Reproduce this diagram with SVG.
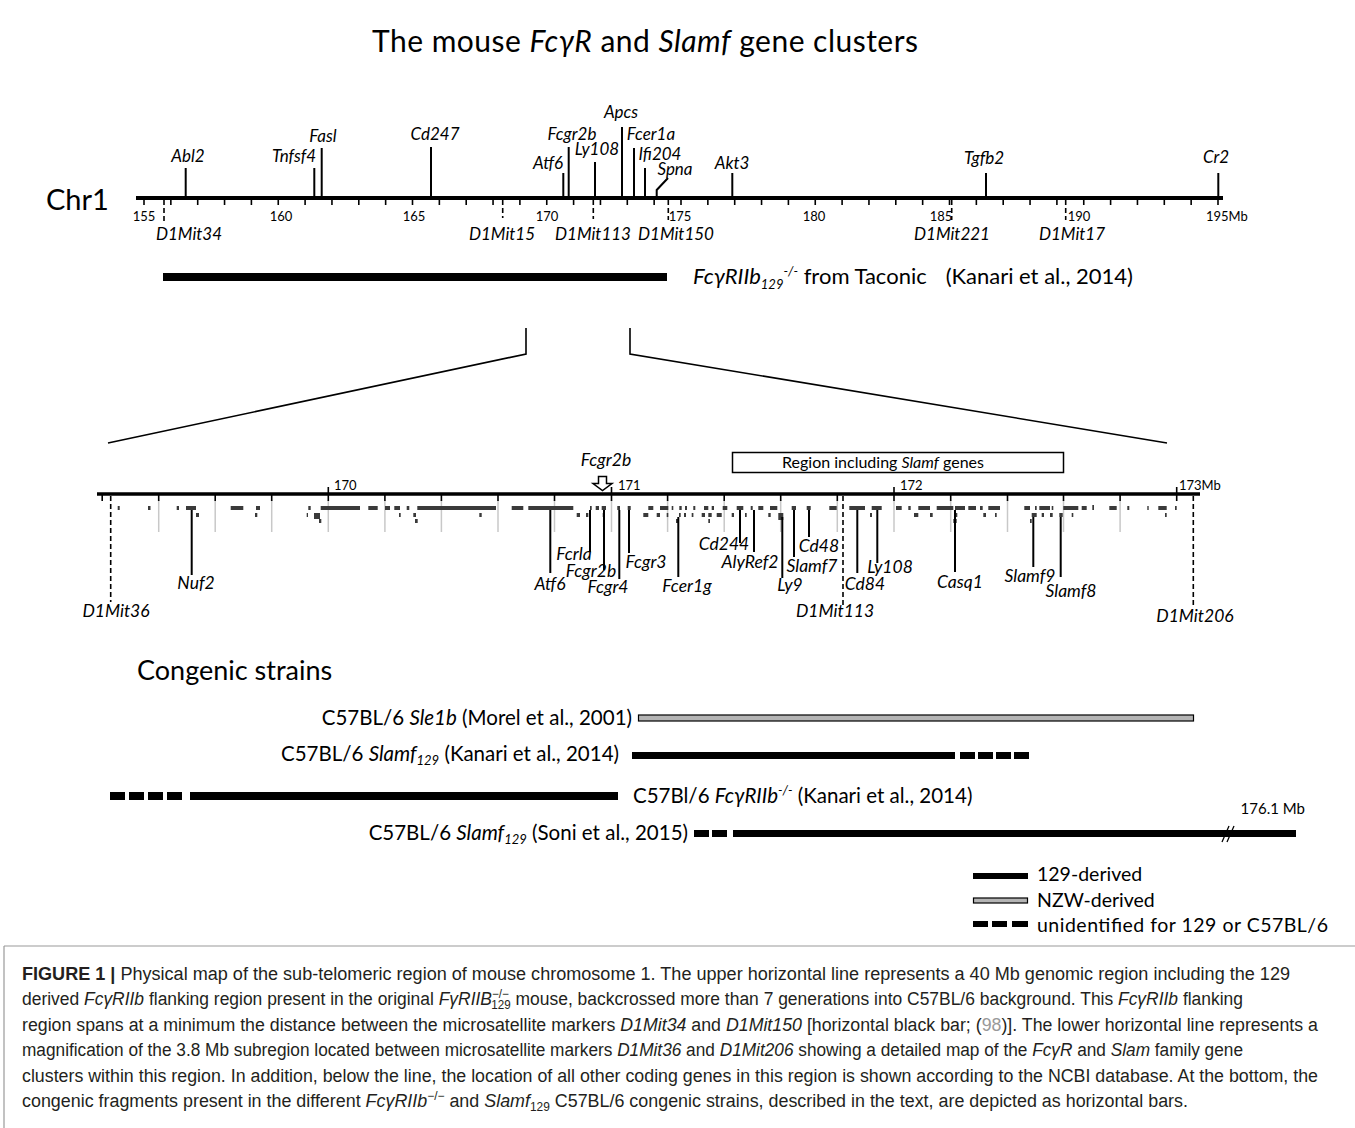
<svg xmlns="http://www.w3.org/2000/svg" width="1355" height="1128" viewBox="0 0 1355 1128">
<style>
text{font-family:Lato,"Liberation Sans",sans-serif;fill:#000}
.it{font-style:italic}
.gt{font-size:17px;font-style:italic;text-anchor:middle}
.gl{font-size:17.5px;font-style:italic;text-anchor:middle}
.tk{font-size:13px;text-anchor:middle}
.tk2{font-size:13px}
.gline{stroke:#000;stroke-width:2;fill:none}
.mk{stroke:#000;stroke-width:1.6;stroke-dasharray:5,3;fill:none}
.tick{stroke:#000;stroke-width:1.6}
.gray{stroke:#c8c8c8;stroke-width:1.5}
.blk rect{fill:#3a3a3a}
.strain{font-size:20.5px}
.cap{font-family:"Liberation Sans",Arial,sans-serif;font-size:18px;fill:#231f20}
.sub{font-size:13px}
.lg{font-size:19.5px}
</style>

<g id="title">
<text x="372" y="52" font-size="30" textLength="546">The mouse <tspan class="it">FcγR</tspan> and <tspan class="it">Slamf</tspan> gene clusters</text>
</g>

<g id="chr1-map">
<text x="46" y="210" font-size="29">Chr1</text>
<line x1="136" y1="198" x2="1223" y2="198" stroke="#000" stroke-width="4"/>
<g id="chr1-ticks" class="tick">
<line x1="144" y1="198" x2="144" y2="205"/><line x1="170.85" y1="198" x2="170.85" y2="205"/><line x1="197.7" y1="198" x2="197.7" y2="205"/><line x1="224.55" y1="198" x2="224.55" y2="205"/><line x1="251.4" y1="198" x2="251.4" y2="205"/>
<line x1="278.25" y1="198" x2="278.25" y2="205"/><line x1="305.1" y1="198" x2="305.1" y2="205"/><line x1="331.95" y1="198" x2="331.95" y2="205"/><line x1="358.8" y1="198" x2="358.8" y2="205"/><line x1="385.65" y1="198" x2="385.65" y2="205"/>
<line x1="412.5" y1="198" x2="412.5" y2="205"/><line x1="439.35" y1="198" x2="439.35" y2="205"/><line x1="466.2" y1="198" x2="466.2" y2="205"/><line x1="493.05" y1="198" x2="493.05" y2="205"/><line x1="519.9" y1="198" x2="519.9" y2="205"/>
<line x1="546.75" y1="198" x2="546.75" y2="205"/><line x1="573.6" y1="198" x2="573.6" y2="205"/><line x1="600.45" y1="198" x2="600.45" y2="205"/><line x1="627.3" y1="198" x2="627.3" y2="205"/><line x1="654.15" y1="198" x2="654.15" y2="205"/>
<line x1="681" y1="198" x2="681" y2="205"/><line x1="707.85" y1="198" x2="707.85" y2="205"/><line x1="734.7" y1="198" x2="734.7" y2="205"/><line x1="761.55" y1="198" x2="761.55" y2="205"/><line x1="788.4" y1="198" x2="788.4" y2="205"/>
<line x1="815.25" y1="198" x2="815.25" y2="205"/><line x1="842.1" y1="198" x2="842.1" y2="205"/><line x1="868.95" y1="198" x2="868.95" y2="205"/><line x1="895.8" y1="198" x2="895.8" y2="205"/><line x1="922.65" y1="198" x2="922.65" y2="205"/>
<line x1="949.5" y1="198" x2="949.5" y2="205"/><line x1="976.35" y1="198" x2="976.35" y2="205"/><line x1="1003.2" y1="198" x2="1003.2" y2="205"/><line x1="1030.05" y1="198" x2="1030.05" y2="205"/><line x1="1056.9" y1="198" x2="1056.9" y2="205"/>
<line x1="1083.75" y1="198" x2="1083.75" y2="205"/><line x1="1110.6" y1="198" x2="1110.6" y2="205"/><line x1="1137.45" y1="198" x2="1137.45" y2="205"/><line x1="1164.3" y1="198" x2="1164.3" y2="205"/><line x1="1191.15" y1="198" x2="1191.15" y2="205"/>
<line x1="1218" y1="198" x2="1218" y2="205"/>
</g>
<g id="chr1-scale">
<text class="tk" x="144" y="221">155</text><text class="tk" x="281" y="221">160</text><text class="tk" x="414" y="221">165</text><text class="tk" x="547" y="221">170</text>
<text class="tk" x="680" y="221">175</text><text class="tk" x="814" y="221">180</text><text class="tk" x="941" y="221">185</text><text class="tk" x="1079" y="221">190</text>
<text class="tk2" x="1206" y="221">195Mb</text>
</g>
<g id="chr1-genes">
<line class="gline" x1="185.7" y1="198" x2="185.7" y2="168"/><text class="gt" x="188" y="162">Abl2</text>
<line class="gline" x1="314.3" y1="198" x2="314.3" y2="168"/><text class="gt" x="294" y="162">Tnfsf4</text>
<line class="gline" x1="321.7" y1="198" x2="321.7" y2="148"/><text class="gt" x="323" y="142">Fasl</text>
<line class="gline" x1="431" y1="198" x2="431" y2="147"/><text class="gt" x="435" y="140">Cd247</text>
<line class="gline" x1="563.3" y1="198" x2="563.3" y2="173"/><text class="gt" x="548" y="169">Atf6</text>
<line class="gline" x1="568.7" y1="198" x2="568.7" y2="147"/><text class="gt" x="572" y="140">Fcgr2b</text>
<line class="gline" x1="595" y1="198" x2="595" y2="162"/><text class="gt" x="597" y="155">Ly108</text>
<line class="gline" x1="622" y1="198" x2="622" y2="127"/><text class="gt" x="621" y="118">Apcs</text>
<line class="gline" x1="634" y1="198" x2="634" y2="148"/><text class="gt" x="651" y="140">Fcer1a</text>
<line class="gline" x1="645" y1="198" x2="645" y2="168"/><text class="gt" x="660" y="160">Ifi204</text>
<polyline class="gline" points="656.7,198 656.7,190 668,178"/><text class="gt" x="675" y="175">Spna</text>
<line class="gline" x1="732.3" y1="198" x2="732.3" y2="173"/><text class="gt" x="732" y="169">Akt3</text>
<line class="gline" x1="986" y1="198" x2="986" y2="173"/><text class="gt" x="984" y="164">Tgfb2</text>
<line class="gline" x1="1218.3" y1="198" x2="1218.3" y2="173"/><text class="gt" x="1216" y="163">Cr2</text>
</g>
<g id="chr1-markers">
<line class="mk" x1="164" y1="200" x2="164" y2="222"/><text class="gt" x="189" y="240">D1Mit34</text>
<line class="mk" x1="502.7" y1="200" x2="502.7" y2="218"/><text class="gt" x="502" y="240">D1Mit15</text>
<line class="mk" x1="593.3" y1="200" x2="593.3" y2="219"/><text class="gt" x="593" y="240">D1Mit113</text>
<line class="mk" x1="668.3" y1="200" x2="668.3" y2="220"/><text class="gt" x="676" y="240">D1Mit150</text>
<line class="mk" x1="951.7" y1="200" x2="951.7" y2="220"/><text class="gt" x="952" y="240">D1Mit221</text>
<line class="mk" x1="1065.7" y1="200" x2="1065.7" y2="220"/><text class="gt" x="1072" y="240">D1Mit17</text>
</g>
</g>

<g id="taconic-bar">
<rect x="163" y="273" width="504" height="8" fill="#000"/>
<text x="693" y="284" font-size="22"><tspan class="it">FcγRIIb</tspan><tspan class="it sub" dy="5">129</tspan><tspan class="it sub" dy="-13">-/-</tspan><tspan dy="8"> from Taconic</tspan></text>
<text x="1133" y="284" font-size="22" text-anchor="end">(Kanari et al., 2014)</text>
</g>

<g id="connectors">
<polyline points="526,328 526,354 108,443" fill="none" stroke="#000" stroke-width="1.6"/>
<polyline points="630,328 630,354 1167,443" fill="none" stroke="#000" stroke-width="1.6"/>
</g>

<g id="detail-map">
<g id="region-box">
<rect x="732.5" y="452.5" width="331" height="20" fill="#fff" stroke="#000" stroke-width="1.5"/>
<text x="883" y="468" font-size="16" text-anchor="middle">Region including <tspan class="it">Slamf</tspan> genes</text>
</g>
<g id="fcgr2b-arrow">
<text class="gl" x="606" y="466">Fcgr2b</text>
<path d="M598.5,476.5 h8 v7 h5.5 l-9.5,7 l-9.5,-7 h5.5 z" fill="#fff" stroke="#000" stroke-width="1.5"/>
</g>
<g id="detail-gray" class="gray">
<line x1="158.7" y1="500" x2="158.7" y2="532"/><line x1="215.2" y1="500" x2="215.2" y2="532"/><line x1="271.7" y1="500" x2="271.7" y2="532"/><line x1="328.3" y1="500" x2="328.3" y2="532"/>
<line x1="384.9" y1="500" x2="384.9" y2="532"/><line x1="441.4" y1="500" x2="441.4" y2="532"/><line x1="498" y1="500" x2="498" y2="532"/><line x1="554.5" y1="500" x2="554.5" y2="532"/>
<line x1="611.5" y1="500" x2="611.5" y2="532"/><line x1="667.6" y1="500" x2="667.6" y2="532"/><line x1="724.2" y1="500" x2="724.2" y2="532"/><line x1="780.7" y1="500" x2="780.7" y2="532"/>
<line x1="837.3" y1="500" x2="837.3" y2="532"/><line x1="894" y1="500" x2="894" y2="532"/><line x1="950.7" y1="500" x2="950.7" y2="532"/><line x1="1007.5" y1="500" x2="1007.5" y2="532"/>
<line x1="1063.5" y1="500" x2="1063.5" y2="532"/><line x1="1120.1" y1="500" x2="1120.1" y2="532"/>
</g>
<line x1="97" y1="494" x2="1200" y2="494" stroke="#000" stroke-width="3.5"/>
<g id="detail-ticks" class="tick">
<line x1="102.2" y1="494" x2="102.2" y2="501"/><line x1="158.7" y1="494" x2="158.7" y2="501"/><line x1="215.2" y1="494" x2="215.2" y2="501"/><line x1="271.7" y1="494" x2="271.7" y2="501"/>
<line x1="328.3" y1="487" x2="328.3" y2="501"/><line x1="384.9" y1="494" x2="384.9" y2="501"/><line x1="441.4" y1="494" x2="441.4" y2="501"/><line x1="498" y1="494" x2="498" y2="501"/>
<line x1="554.5" y1="494" x2="554.5" y2="501"/><line x1="611.5" y1="487" x2="611.5" y2="501"/><line x1="667.6" y1="494" x2="667.6" y2="501"/><line x1="724.2" y1="494" x2="724.2" y2="501"/>
<line x1="780.7" y1="494" x2="780.7" y2="501"/><line x1="837.3" y1="494" x2="837.3" y2="501"/><line x1="894" y1="487" x2="894" y2="501"/><line x1="950.7" y1="494" x2="950.7" y2="501"/>
<line x1="1007.5" y1="494" x2="1007.5" y2="501"/><line x1="1063.5" y1="494" x2="1063.5" y2="501"/><line x1="1120.1" y1="494" x2="1120.1" y2="501"/><line x1="1176.7" y1="487" x2="1176.7" y2="501"/>
</g>
<text class="tk2" x="334" y="490">170</text>
<text class="tk2" x="618" y="490">171</text>
<text class="tk2" x="900" y="490">172</text>
<text class="tk2" x="1179" y="490">173Mb</text>
<g id="gene-blocks" class="blk">
<rect x="117.7" y="506" width="2" height="4"/><rect x="148" y="506" width="2.5" height="4"/><rect x="176.7" y="506" width="2.3" height="4"/><rect x="186" y="506" width="10" height="4"/>
<rect x="230.7" y="506" width="12.6" height="4"/><rect x="256" y="506" width="4" height="4"/><rect x="308.3" y="506" width="2.4" height="4"/><rect x="320.7" y="506" width="39.3" height="4"/>
<rect x="368.3" y="506" width="9.4" height="4"/><rect x="385" y="506" width="5" height="4"/><rect x="394.3" y="506" width="5.7" height="4"/><rect x="406.7" y="506" width="2.6" height="4"/>
<rect x="417.3" y="506" width="78.7" height="4"/><rect x="511.7" y="506" width="11.6" height="4"/><rect x="528.3" y="506" width="45" height="4"/><rect x="590" y="506" width="1.7" height="4"/>
<rect x="595.7" y="506" width="3.3" height="4"/><rect x="601.7" y="506" width="4.3" height="4"/><rect x="617.3" y="506" width="2.7" height="4"/><rect x="627.7" y="506" width="3" height="4"/>
<rect x="648.3" y="506" width="5" height="4"/><rect x="660" y="506" width="8.3" height="4"/><rect x="671.7" y="506" width="1.6" height="4"/><rect x="679.3" y="506" width="2.4" height="4"/>
<rect x="685" y="506" width="2" height="4"/><rect x="693.3" y="506" width="2" height="4"/><rect x="704" y="506" width="4.3" height="4"/><rect x="711.7" y="506" width="2.3" height="4"/>
<rect x="722.7" y="506" width="4.6" height="4"/><rect x="736.7" y="506" width="6.6" height="4"/><rect x="750.7" y="506" width="2" height="4"/><rect x="758.3" y="506" width="5" height="4"/>
<rect x="770" y="506" width="7.3" height="4"/><rect x="791.7" y="506" width="4.3" height="4"/><rect x="806.7" y="506" width="4" height="4"/><rect x="829.3" y="506" width="7.4" height="4"/>
<rect x="849.3" y="506" width="15.7" height="4"/><rect x="871.7" y="506" width="10" height="4"/><rect x="896" y="506" width="5.7" height="4"/><rect x="908.3" y="506" width="2.4" height="4"/>
<rect x="918.3" y="506" width="11.7" height="4"/><rect x="936.7" y="506" width="16.6" height="4"/><rect x="955" y="506" width="10" height="4"/><rect x="968.3" y="506" width="7.7" height="4"/>
<rect x="980" y="506" width="2.7" height="4"/><rect x="988.3" y="506" width="11.7" height="4"/><rect x="1024.3" y="506" width="5.7" height="4"/><rect x="1035" y="506" width="1.7" height="4"/>
<rect x="1039.3" y="506" width="10.7" height="4"/><rect x="1051.7" y="506" width="1.6" height="4"/><rect x="1063.3" y="506" width="15" height="4"/><rect x="1081.7" y="506" width="5" height="4"/>
<rect x="1092.3" y="505" width="1.7" height="5"/><rect x="1109.3" y="506" width="7.4" height="4"/><rect x="1127.3" y="506" width="2" height="4"/><rect x="1147.3" y="506" width="1.4" height="4"/>
<rect x="1158.3" y="506" width="8.4" height="4"/><rect x="1175" y="506" width="1.7" height="4"/>
<rect x="196" y="513" width="3" height="4"/><rect x="255" y="513" width="2.3" height="4"/><rect x="306.7" y="513" width="1.3" height="4"/><rect x="314" y="513" width="6" height="6"/>
<rect x="399" y="513" width="1.7" height="4"/><rect x="413.3" y="513" width="2.7" height="4"/><rect x="479.3" y="513" width="2.4" height="4"/><rect x="576.7" y="513" width="3.3" height="4"/>
<rect x="586" y="513" width="2.3" height="4"/><rect x="602.7" y="513" width="2.3" height="4"/><rect x="643.3" y="513" width="5" height="4"/><rect x="656.7" y="513" width="3.3" height="4"/>
<rect x="666.7" y="513" width="1.6" height="4"/><rect x="679" y="513" width="1.7" height="4"/><rect x="684" y="513" width="2" height="4"/><rect x="691.7" y="513" width="1.7" height="4"/>
<rect x="701.7" y="513" width="3.3" height="4"/><rect x="708.3" y="513" width="3.4" height="4"/><rect x="716.7" y="513" width="5" height="4"/><rect x="731.7" y="513" width="2.3" height="4"/>
<rect x="745" y="513" width="1.7" height="4"/><rect x="768.3" y="513" width="2.4" height="4"/><rect x="778.3" y="513" width="5" height="7"/><rect x="870" y="513" width="2" height="4"/>
<rect x="914" y="513" width="4.3" height="4"/><rect x="930" y="513" width="2.7" height="4"/><rect x="955" y="513" width="2.3" height="4"/><rect x="983.3" y="513" width="2.7" height="4"/>
<rect x="995" y="513" width="1.7" height="4"/><rect x="1031.7" y="513" width="5" height="4"/><rect x="1041.7" y="513" width="2.3" height="4"/><rect x="1050" y="513" width="2.7" height="4"/>
<rect x="1059.3" y="513" width="3.4" height="4"/><rect x="1071.7" y="513" width="1.6" height="4"/><rect x="1165" y="513" width="1.7" height="4"/>
<rect x="319" y="519" width="2.3" height="4"/><rect x="415" y="519" width="2.7" height="4"/><rect x="676" y="519" width="2.7" height="4"/><rect x="708.3" y="519" width="1.7" height="4"/>
<rect x="953.3" y="519" width="3.4" height="4"/><rect x="1030" y="519" width="1.7" height="4"/>
</g>
<g id="detail-genes">
<line class="gline" x1="191.7" y1="510" x2="191.7" y2="575"/><text class="gl" x="196" y="589">Nuf2</text>
<line class="gline" x1="550.3" y1="510" x2="550.3" y2="573"/><text class="gl" x="550" y="590">Atf6</text>
<line class="gline" x1="590" y1="510" x2="590" y2="552"/><text class="gl" x="574" y="560">Fcrla</text>
<line class="gline" x1="604" y1="510" x2="604" y2="570"/><text class="gl" x="591" y="577">Fcgr2b</text>
<line class="gline" x1="619.3" y1="510" x2="619.3" y2="579"/><text class="gl" x="608" y="593">Fcgr4</text>
<line class="gline" x1="629" y1="510" x2="629" y2="553"/><text class="gl" x="646" y="568">Fcgr3</text>
<line class="gline" x1="678.3" y1="517" x2="678.3" y2="577"/><text class="gl" x="687" y="592">Fcer1g</text>
<line class="gline" x1="740" y1="510" x2="740" y2="543"/><text class="gl" x="724" y="550">Cd244</text>
<line class="gline" x1="754" y1="510" x2="754" y2="552"/><text class="gl" x="750" y="568">AlyRef2</text>
<line class="gline" x1="782.3" y1="517" x2="782.3" y2="578"/><text class="gl" x="790" y="591">Ly9</text>
<line class="gline" x1="794" y1="510" x2="794" y2="557"/><text class="gl" x="812" y="572">Slamf7</text>
<line class="gline" x1="809" y1="510" x2="809" y2="537"/><text class="gl" x="819" y="552">Cd48</text>
<line class="gline" x1="857.3" y1="510" x2="857.3" y2="573"/><text class="gl" x="865" y="590">Cd84</text>
<line class="gline" x1="877.3" y1="510" x2="877.3" y2="563"/><text class="gl" x="890" y="573">Ly108</text>
<line class="gline" x1="955" y1="510" x2="955" y2="572"/><text class="gl" x="960" y="588">Casq1</text>
<line class="gline" x1="1033.3" y1="517" x2="1033.3" y2="567"/><text class="gl" x="1030" y="582">Slamf9</text>
<line class="gline" x1="1060.7" y1="517" x2="1060.7" y2="577"/><text class="gl" x="1071" y="597">Slamf8</text>
</g>
<g id="detail-markers">
<line class="mk" x1="110.7" y1="496" x2="110.7" y2="602"/><text class="gl" x="116" y="617">D1Mit36</text>
<line class="mk" x1="843" y1="496" x2="843" y2="607"/><text class="gl" x="835" y="617">D1Mit113</text>
<line class="mk" x1="1193.3" y1="496" x2="1193.3" y2="608"/><text class="gl" x="1195" y="622">D1Mit206</text>
</g>
</g>

<g id="congenic">
<text x="137" y="680" font-size="27">Congenic strains</text>
<g id="strain-sle1b">
<text class="strain" x="632" y="725" text-anchor="end">C57BL/6 <tspan class="it">Sle1b</tspan> (Morel et al., 2001)</text>
<rect x="638.5" y="715" width="555" height="6" fill="#b4b4b4" stroke="#000" stroke-width="1.2"/>
</g>
<g id="strain-slamf-kanari">
<text class="strain" x="619" y="761" text-anchor="end">C57BL/6 <tspan class="it">Slamf</tspan><tspan class="it sub" dy="4">129</tspan><tspan dy="-4"> (Kanari et al., 2014)</tspan></text>
<rect x="632" y="752" width="323" height="7" fill="#000"/>
<rect x="960" y="752" width="15" height="7" fill="#000"/><rect x="978" y="752" width="15" height="7" fill="#000"/><rect x="996" y="752" width="15" height="7" fill="#000"/><rect x="1014" y="752" width="15" height="7" fill="#000"/>
</g>
<g id="strain-fcgr2b-kanari">
<rect x="110" y="792" width="15" height="8" fill="#000"/><rect x="129" y="792" width="15" height="8" fill="#000"/><rect x="148" y="792" width="15" height="8" fill="#000"/><rect x="167" y="792" width="15" height="8" fill="#000"/>
<rect x="190" y="792" width="428" height="8" fill="#000"/>
<text class="strain" x="633" y="803">C57Bl/6 <tspan class="it">FcγRIIb</tspan><tspan class="it sub" dy="-8">-/-</tspan><tspan dy="8"> (Kanari et al., 2014)</tspan></text>
</g>
<g id="strain-slamf-soni">
<text class="strain" x="688" y="840" text-anchor="end">C57BL/6 <tspan class="it">Slamf</tspan><tspan class="it sub" dy="4">129</tspan><tspan dy="-4"> (Soni et al., 2015)</tspan></text>
<rect x="694" y="830" width="15" height="7" fill="#000"/><rect x="712" y="830" width="15" height="7" fill="#000"/>
<rect x="733" y="830" width="563" height="7" fill="#000"/>
<line x1="1222" y1="842" x2="1229" y2="826" stroke="#000" stroke-width="1.3"/><line x1="1227" y1="842" x2="1234" y2="826" stroke="#000" stroke-width="1.3"/>
<text x="1305" y="814" font-size="15" text-anchor="end">176.1 Mb</text>
</g>
</g>

<g id="legend">
<rect x="973" y="873" width="55" height="6" fill="#000"/>
<text class="lg" x="1037" y="881">129-derived</text>
<rect x="973.5" y="898" width="54" height="5" fill="#b4b4b4" stroke="#000" stroke-width="1.2"/>
<text class="lg" x="1037" y="907">NZW-derived</text>
<rect x="973" y="921" width="15" height="6" fill="#000"/><rect x="992" y="921" width="15" height="6" fill="#000"/><rect x="1012" y="921" width="16" height="6" fill="#000"/>
<text class="lg" x="1037" y="932" textLength="291">unidentified for 129 or C57BL/6</text>
</g>

<g id="caption">
<line x1="4" y1="946" x2="1355" y2="946" stroke="#999" stroke-width="1.2"/>
<line x1="4" y1="946" x2="4" y2="1128" stroke="#999" stroke-width="1.2"/>
<text class="cap" x="22" y="980" textLength="1268" lengthAdjust="spacingAndGlyphs"><tspan font-weight="bold">FIGURE 1 |</tspan> Physical map of the sub-telomeric region of mouse chromosome 1. The upper horizontal line represents a 40 Mb genomic region including the 129</text>
<text class="cap" x="22" y="1005" textLength="1221" lengthAdjust="spacingAndGlyphs">derived <tspan class="it">FcγRIIb</tspan> flanking region present in the original <tspan class="it">FγRIIB</tspan><tspan font-size="12" dy="-7">−/−</tspan><tspan font-size="12" dx="-18" dy="11">129</tspan><tspan dy="-4"> mouse, backcrossed more than 7 generations into C57BL/6 background. This </tspan><tspan class="it">FcγRIIb</tspan> flanking</text>
<text class="cap" x="22" y="1031" textLength="1296" lengthAdjust="spacingAndGlyphs">region spans at a minimum the distance between the microsatellite markers <tspan class="it">D1Mit34</tspan> and <tspan class="it">D1Mit150</tspan> [horizontal black bar; (<tspan fill="#999">98</tspan>)]. The lower horizontal line represents a</text>
<text class="cap" x="22" y="1056" textLength="1221" lengthAdjust="spacingAndGlyphs">magnification of the 3.8 Mb subregion located between microsatellite markers <tspan class="it">D1Mit36</tspan> and <tspan class="it">D1Mit206</tspan> showing a detailed map of the <tspan class="it">FcγR</tspan> and <tspan class="it">Slam</tspan> family gene</text>
<text class="cap" x="22" y="1082" textLength="1296" lengthAdjust="spacingAndGlyphs">clusters within this region. In addition, below the line, the location of all other coding genes in this region is shown according to the NCBI database. At the bottom, the</text>
<text class="cap" x="22" y="1107" textLength="1166" lengthAdjust="spacingAndGlyphs">congenic fragments present in the different <tspan class="it">FcγRIIb</tspan><tspan font-size="12" dy="-7">−/−</tspan><tspan dy="7"> and </tspan><tspan class="it">Slamf</tspan><tspan font-size="12" dy="4">129</tspan><tspan dy="-4"> C57BL/6 congenic strains, described in the text, are depicted as horizontal bars.</tspan></text>
</g>
</svg>
